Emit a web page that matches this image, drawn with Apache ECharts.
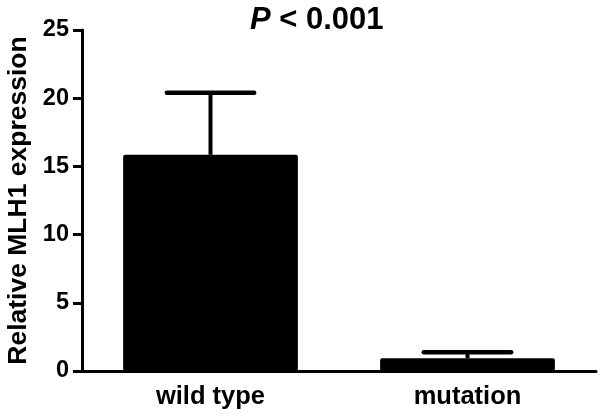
<!DOCTYPE html>
<html>
<head>
<meta charset="utf-8">
<script src="https://cdn.jsdelivr.net/npm/echarts@6/dist/echarts.min.js"></script>
<style>
  html, body { margin: 0; padding: 0; background: #fff; }
  #chart { width: 600px; height: 416px; }
</style>
</head>
<body>
<div id="chart"></div>
<script>
// data
var categories = ['wild type', 'mutation'];
var means = [15.85, 0.93];
var upper = [20.4, 1.37];
var yTicks = [0, 5, 10, 15, 20, 25];

var font = 'Liberation Sans, Arial, Helvetica, sans-serif';
var myChart = echarts.init(document.getElementById('chart'));

var option = {
    backgroundColor: '#fff',
    animation: false,
    title: {
        text: '{i|P} < 0.001',
        left: 245,
        top: 0,
        textStyle: {
            fontFamily: font,
            fontSize: 31,
            fontWeight: 'bold',
            color: '#000',
            rich: {
                i: { fontFamily: font, fontSize: 31, fontWeight: 'bold', fontStyle: 'italic', color: '#000' }
            }
        }
    },
    grid: { left: 82, right: 4, top: 30, bottom: 45, containLabel: false, outerBoundsMode: 'none' },
    xAxis: {
        type: 'category',
        data: categories,
        axisLine: { lineStyle: { color: '#000', width: 3 } },
        axisTick: { alignWithLabel: true, length: 10, lineStyle: { color: '#000', width: 3 } },
        axisLabel: { color: '#000', fontFamily: font, fontSize: 25.5, fontWeight: 'bold', margin: 13 }
    },
    yAxis: {
        type: 'value',
        min: yTicks[0],
        max: yTicks[yTicks.length - 1],
        interval: 5,
        name: 'Relative MLH1 expression',
        nameLocation: 'middle',
        nameGap: 50,
        nameTextStyle: { color: '#000', fontFamily: font, fontSize: 26.5, fontWeight: 'bold' },
        axisLine: { show: true, lineStyle: { color: '#000', width: 3 } },
        axisTick: { show: true, length: 9, lineStyle: { color: '#000', width: 3 } },
        axisLabel: { color: '#000', fontFamily: font, fontSize: 23.5, fontWeight: 'bold', margin: 13 },
        splitLine: { show: false }
    },
    series: [
        {
            type: 'bar',
            data: means,
            barWidth: '68%',
            itemStyle: { color: '#000', borderRadius: 2 },
            z: 2
        },
        {
            // error bars (upper whisker only, lower part is hidden by the bar)
            type: 'custom',
            data: categories.map(function (c, i) { return [i, means[i], upper[i]]; }),
            renderItem: function (params, api) {
                var i = api.value(0);
                var lo = api.coord([i, api.value(1)]);
                var hi = api.coord([i, api.value(2)]);
                var half = api.size([1, 0])[0] * 0.68 / 4;
                return {
                    type: 'group',
                    children: [
                        {
                            type: 'line',
                            shape: { x1: lo[0], y1: lo[1], x2: hi[0], y2: hi[1] },
                            style: { stroke: '#000', lineWidth: 4 }
                        },
                        {
                            type: 'line',
                            shape: { x1: hi[0] - half, y1: hi[1], x2: hi[0] + half, y2: hi[1] },
                            style: { stroke: '#000', lineWidth: 4.5, lineCap: 'round' }
                        }
                    ]
                };
            },
            z: 3
        }
    ]
};

myChart.setOption(option);
</script>
</body>
</html>
